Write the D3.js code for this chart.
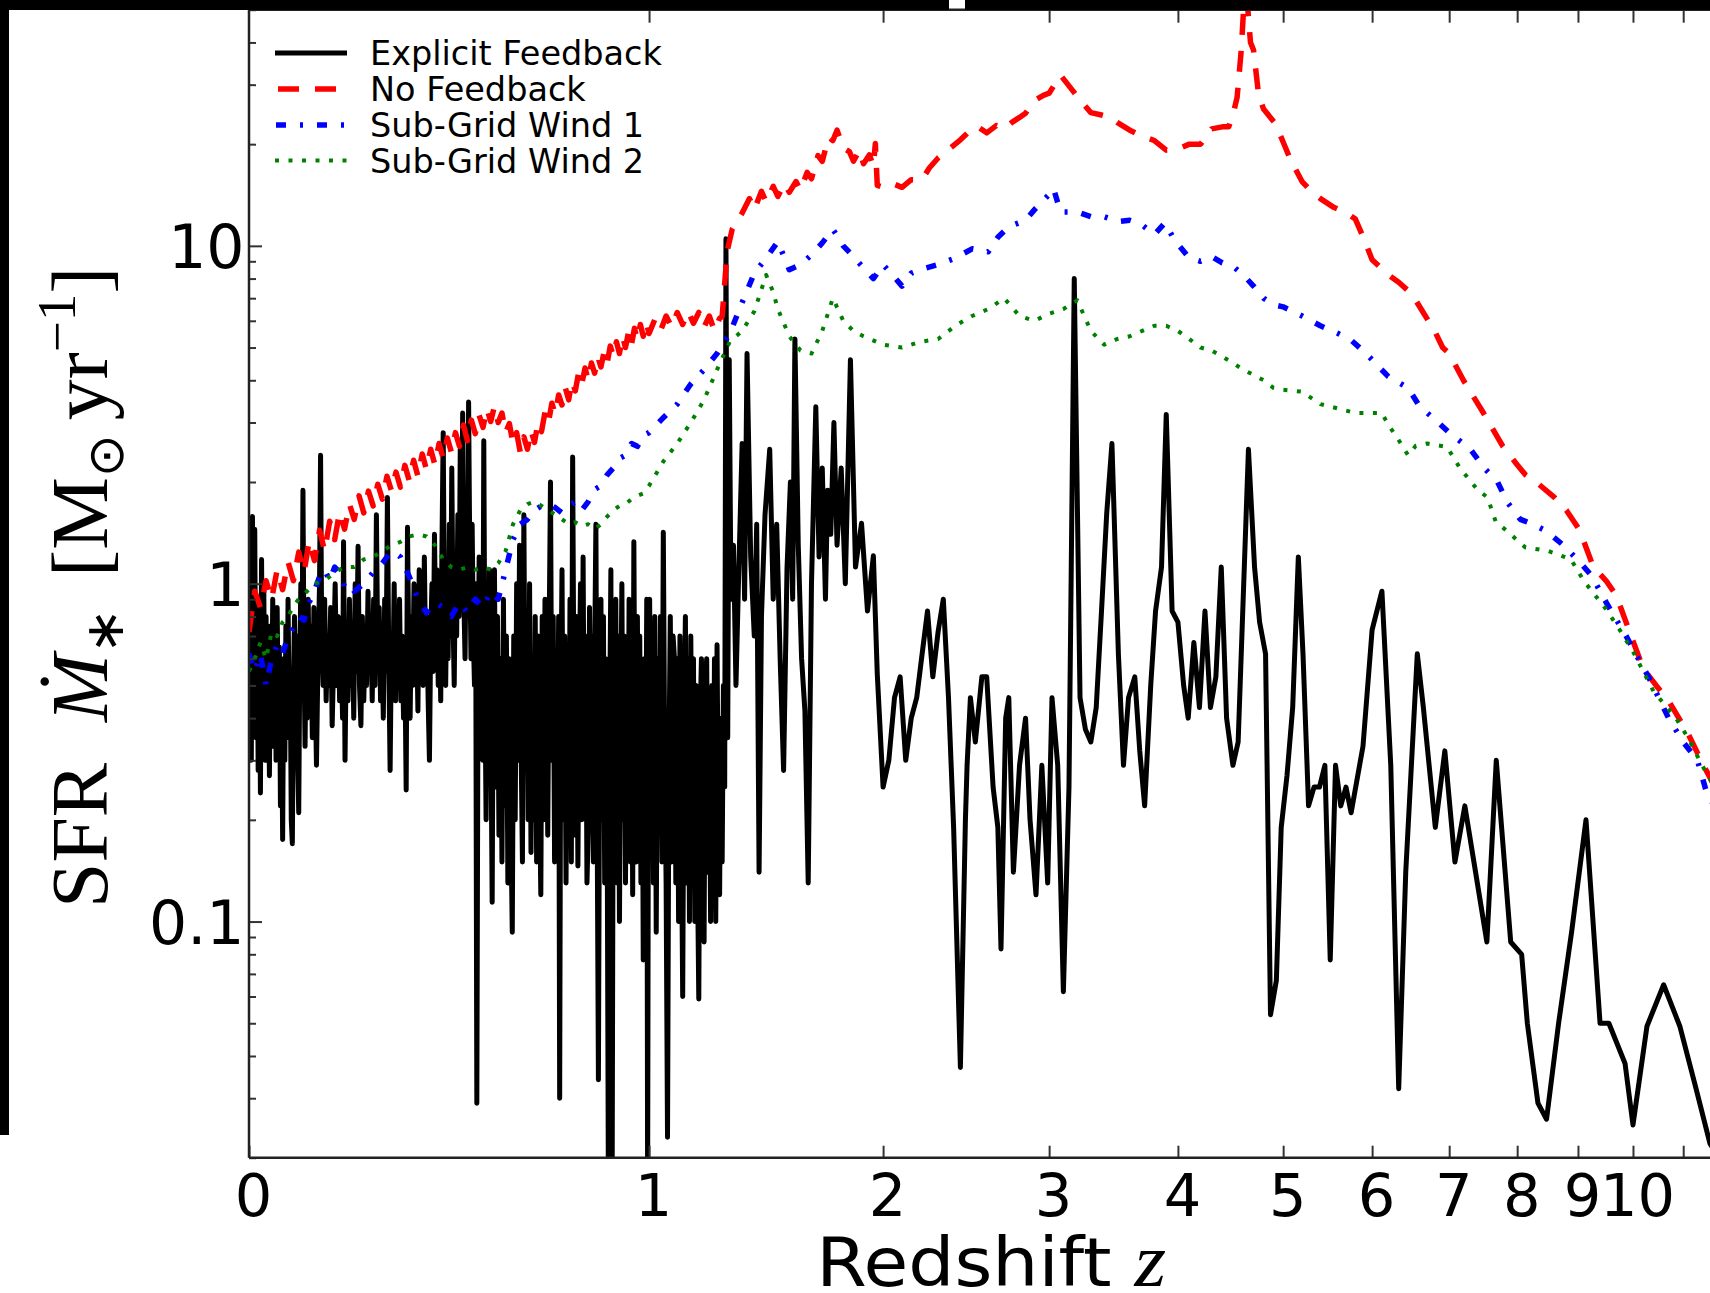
<!DOCTYPE html>
<html><head><meta charset="utf-8">
<script src="https://cdn.jsdelivr.net/npm/d3@7"></script>
<style>body{margin:0;background:#fff}svg{display:block}</style>
</head><body>
<svg id="c" width="1710" height="1293"></svg>
<script>
// ---------------- DATA (redshift z, SFR in Msun/yr) ----------------
const explicitFeedback = [
[0.000,0.45],[0.002,1.2],[0.004,0.3],[0.006,1.58],[0.008,0.5],[0.010,1.45],[0.012,0.35],[0.014,0.9],[0.016,0.28],[0.018,0.7],[0.020,0.24],[0.022,1.18],[0.024,0.4],[0.026,0.95],[0.028,0.3],[0.030,0.8],[0.032,0.35],[0.034,0.6],[0.036,0.27],[0.038,0.75],[0.040,0.4],[0.042,0.9],[0.044,0.33],[0.046,0.7],[0.048,0.3],[0.050,0.85],[0.052,0.4],[0.054,0.65],[0.056,0.22],[0.058,0.5],[0.060,0.175],[0.062,0.6],[0.064,0.3],[0.066,0.75],[0.068,0.35],[0.070,0.9],[0.072,0.4],[0.074,0.55],[0.076,0.2],[0.078,0.17],[0.080,0.5],[0.082,0.8],[0.084,0.45],[0.086,0.7],[0.088,0.3],[0.090,0.21],[0.092,0.6],[0.094,1.0],[0.096,0.5],[0.098,1.89],[0.100,0.6],[0.102,0.33],[0.104,0.7],[0.106,0.4],[0.108,0.9],[0.110,0.5],[0.113,0.75],[0.116,0.35],[0.119,0.85],[0.122,0.45],[0.124,0.29],[0.127,0.6],[0.130,1.0],[0.132,2.4],[0.134,0.8],[0.137,0.5],[0.140,0.9],[0.143,0.45],[0.146,0.7],[0.149,0.5],[0.152,0.85],[0.155,0.38],[0.158,0.6],[0.161,1.0],[0.164,0.5],[0.167,0.8],[0.170,0.45],[0.173,0.65],[0.176,0.4],[0.178,1.33],[0.181,0.30],[0.184,0.7],[0.187,0.45],[0.190,0.9],[0.193,0.5],[0.196,0.75],[0.199,0.4],[0.202,1.0],[0.205,0.55],[0.208,1.29],[0.211,0.5],[0.214,0.38],[0.217,0.8],[0.220,0.45],[0.223,0.7],[0.226,0.5],[0.229,0.95],[0.232,0.55],[0.235,0.8],[0.238,0.45],[0.241,0.9],[0.244,0.5],[0.247,1.6],[0.250,0.6],[0.253,0.85],[0.256,0.45],[0.259,0.7],[0.262,0.4],[0.265,0.9],[0.268,0.55],[0.271,1.8],[0.274,0.6],[0.277,0.28],[0.280,0.7],[0.283,0.5],[0.286,1.0],[0.289,0.45],[0.292,0.8],[0.295,0.5],[0.298,0.9],[0.301,0.45],[0.304,0.7],[0.307,0.4],[0.310,0.6],[0.313,0.245],[0.316,1.47],[0.319,0.6],[0.322,0.4],[0.325,0.8],[0.328,0.5],[0.331,1.0],[0.334,0.55],[0.337,0.75],[0.340,0.42],[0.343,1.1],[0.346,0.6],[0.349,0.9],[0.352,0.5],[0.355,1.2],[0.358,0.6],[0.361,0.8],[0.364,0.45],[0.367,0.3],[0.370,0.7],[0.373,1.0],[0.376,0.55],[0.379,1.4],[0.382,0.7],[0.385,1.1],[0.388,0.5],[0.391,0.8],[0.394,0.45],[0.397,1.3],[0.400,2.8],[0.403,0.8],[0.406,0.5],[0.409,1.0],[0.412,0.6],[0.415,1.5],[0.418,0.7],[0.421,2.2],[0.424,0.8],[0.427,0.5],[0.430,1.2],[0.433,0.7],[0.436,1.6],[0.439,0.8],[0.442,2.5],[0.445,1.0],[0.448,3.2],[0.451,0.9],[0.454,0.6],[0.457,1.4],[0.460,0.8],[0.463,3.45],[0.466,1.2],[0.469,0.6],[0.472,1.5],[0.475,0.7],[0.478,0.5],[0.481,1.0],[0.484,0.029],[0.487,0.5],[0.490,1.2],[0.493,0.35],[0.496,0.9],[0.499,0.3],[0.502,2.65],[0.505,0.5],[0.508,0.2],[0.511,0.8],[0.514,0.3],[0.517,1.1],
[0.520,0.45],[0.524,0.114],[0.527,0.7],[0.530,1.1],[0.534,0.25],[0.538,0.8],[0.542,0.18],[0.546,0.6],[0.550,0.15],[0.554,0.9],[0.558,0.22],[0.562,0.7],[0.566,0.13],[0.570,0.6],[0.574,0.2],[0.578,0.093],[0.582,0.7],[0.586,0.2],[0.590,1.0],[0.594,0.3],[0.598,1.3],[0.602,0.35],[0.606,0.15],[0.610,1.6],[0.614,0.3],[0.618,0.8],[0.622,0.2],[0.626,1.0],[0.630,0.16],[0.634,0.6],[0.638,0.2],[0.642,0.8],[0.646,0.15],[0.650,0.7],[0.654,0.25],[0.658,0.12],[0.662,0.8],[0.666,0.2],[0.670,0.9],[0.674,0.5],[0.678,0.18],[0.682,0.7],[0.686,2.0],[0.690,0.3],[0.694,0.8],[0.698,0.15],[0.702,0.6],[0.706,0.22],[0.710,0.8],[0.713,0.03],[0.716,0.4],[0.720,1.1],[0.724,0.2],[0.728,0.7],[0.732,0.13],[0.736,0.6],[0.740,0.2],[0.744,0.9],[0.748,0.15],[0.752,2.37],[0.756,0.45],[0.760,0.18],[0.764,0.8],[0.768,0.146],[0.772,0.5],[0.776,1.0],[0.780,0.2],[0.784,1.2],[0.788,0.25],[0.792,0.7],[0.796,0.13],[0.800,0.187],[0.804,0.85],[0.808,0.3],[0.812,0.7],[0.816,0.15],[0.820,0.6],[0.824,1.5],[0.828,0.2],[0.832,0.034],[0.836,0.4],[0.840,0.9],[0.844,0.2],[0.848,0.8],[0.852,0.13],[0.856,0.6],[0.860,0.2],[0.864,0.015],[0.868,0.4],[0.872,1.1],[0.876,0.015],[0.880,0.5],[0.884,0.2],[0.888,0.9],[0.892,0.13],[0.896,0.7],[0.900,0.1],[0.904,0.4],[0.908,1.0],[0.912,0.2],[0.916,0.7],[0.920,0.13],[0.924,0.6],[0.928,0.2],[0.932,0.9],[0.936,0.15],[0.940,0.7],[0.944,0.12],[0.948,1.33],[0.952,0.3],[0.956,0.15],[0.960,0.8],[0.964,0.2],[0.968,0.7],[0.972,0.13],[0.976,0.5],[0.980,0.077],[0.984,0.6],[0.988,0.2],[0.992,0.9],[0.995,0.015],[0.998,0.4],[1.002,0.9],[1.006,0.2],[1.010,0.7],[1.015,0.13],[1.020,0.8],[1.025,0.093],[1.030,0.6],[1.035,0.2],[1.040,0.8],[1.045,0.15],[1.050,1.42],[1.055,0.3],[1.060,0.13],[1.065,0.023],[1.070,0.3],[1.075,0.8],[1.080,0.15],[1.085,0.7],[1.090,0.6],[1.095,0.13],[1.100,0.6],[1.105,0.1],[1.110,0.7],[1.115,0.2],[1.120,0.06],[1.125,0.4],[1.130,0.8],[1.135,0.13],[1.140,0.6],[1.145,0.1],[1.150,0.7],[1.155,0.2],[1.160,0.6],[1.165,0.1],[1.170,0.5],[1.175,0.14],[1.180,0.059],[1.185,0.4],[1.190,0.6],[1.195,0.13],[1.200,0.087],[1.205,0.5],[1.210,0.6],[1.215,0.14],[1.220,0.4],[1.225,0.1],[1.230,0.5],[1.235,0.14],[1.240,0.6],[1.245,0.1],[1.250,0.66],[1.255,0.2],[1.260,0.12],[1.265,0.4],[1.270,0.15],[1.275,0.5],[1.280,0.25],
[1.285,10.5],[1.292,0.35],[1.298,4.6],[1.305,0.9],[1.315,1.3],[1.325,0.5],[1.335,1.0],[1.35,2.6],[1.36,0.9],[1.37,4.8],[1.385,1.2],[1.40,0.7],[1.41,1.5],[1.42,0.14],[1.43,0.8],[1.445,1.6],[1.465,2.5],[1.48,0.9],[1.495,1.5],[1.51,0.6],[1.525,0.28],[1.54,1.11],[1.555,2.0],[1.565,0.9],[1.575,5.3],[1.59,1.3],[1.605,0.6],[1.62,0.42],[1.635,0.13],[1.65,1.0],[1.67,3.34],[1.685,1.2],[1.70,2.2],[1.715,0.9],[1.725,1.89],[1.74,1.4],[1.755,3.0],[1.77,1.3],[1.79,2.2],[1.81,1.0],[1.835,4.6],[1.86,1.12],[1.89,1.51],[1.92,0.83],[1.95,1.21],[1.97,0.54],
[2.0,0.25],[2.03,0.3],[2.06,0.46],[2.09,0.53],[2.12,0.3],[2.15,0.4],[2.18,0.46],[2.21,0.62],[2.24,0.83],[2.27,0.53],[2.3,0.72],[2.33,0.9],[2.36,0.46],[2.39,0.19],[2.43,0.037],[2.46,0.2],[2.47,0.29],[2.49,0.46],[2.52,0.34],[2.56,0.53],[2.59,0.53],[2.63,0.25],[2.66,0.19],[2.68,0.083],[2.71,0.4],[2.73,0.46],[2.76,0.14],[2.8,0.29],[2.84,0.4],[2.87,0.2],[2.91,0.12],[2.95,0.29],[2.99,0.13],[3.02,0.46],[3.06,0.29],[3.1,0.062],[3.14,0.25],[3.178,8.0],
[3.22,0.46],[3.26,0.37],[3.30,0.34],[3.34,0.43],[3.38,0.83],[3.42,1.62],[3.46,2.6],[3.51,0.62],[3.55,0.29],[3.59,0.46],[3.64,0.53],[3.68,0.32],[3.72,0.22],[3.77,0.5],[3.81,0.83],[3.86,1.12],[3.90,3.17],[3.95,0.83],[4.0,0.77],[4.05,0.5],[4.09,0.4],[4.14,0.67],[4.19,0.43],[4.24,0.83],[4.29,0.43],[4.34,0.53],[4.39,1.12],[4.44,0.4],[4.5,0.29],[4.55,0.34],[4.65,2.5],[4.71,1.12],[4.76,0.77],[4.82,0.62],[4.87,0.053],[4.93,0.067],[4.98,0.19],[5.04,0.27],[5.1,0.43],[5.16,1.2],[5.21,0.62],[5.27,0.22],[5.33,0.25],[5.39,0.25],[5.45,0.29],[5.51,0.077],[5.57,0.29],[5.63,0.22],[5.69,0.25],[5.75,0.21],[5.89,0.33],[6.0,0.73],[6.12,0.95],[6.23,0.29],[6.33,0.032],[6.42,0.14],[6.57,0.62],[6.65,0.43],[6.81,0.19],[6.94,0.32],[7.08,0.15],[7.22,0.22],[7.54,0.087],[7.68,0.3],[7.9,0.087],[8.07,0.08],[8.16,0.05],[8.33,0.029],[8.47,0.026],[8.67,0.05],[8.89,0.093],[9.14,0.2],[9.39,0.05],[9.55,0.05],[9.85,0.038],[10.0,0.025],[10.27,0.049],[10.6,0.065],[10.93,0.049],[11.27,0.032],[11.57,0.022],[12.0,0.018]
];

const noFeedback = [
[0.00,0.72],[0.01,0.95],[0.02,0.85],[0.03,1.02],[0.04,0.9],[0.05,1.1],[0.06,0.96],[0.07,1.16],[0.08,1.02],[0.09,1.24],[0.10,1.08],[0.11,1.34],[0.12,1.17],[0.13,1.44],[0.14,1.25],[0.15,1.53],[0.16,1.35],[0.17,1.63],[0.18,1.45],[0.19,1.72],[0.20,1.55],[0.21,1.82],[0.22,1.62],[0.23,1.88],[0.24,1.70],[0.25,1.97],[0.26,1.78],[0.27,2.08],[0.28,1.88],[0.29,2.14],[0.30,1.93],[0.31,2.24],[0.32,2.02],[0.33,2.32],[0.34,2.08],[0.35,2.42],[0.36,2.18],[0.37,2.5],[0.38,2.25],[0.39,2.6],[0.40,2.35],[0.41,2.7],[0.42,2.45],[0.43,2.8],[0.44,2.55],[0.45,2.95],[0.46,2.65],[0.47,3.05],[0.48,2.78],[0.49,3.15],[0.50,2.9],[0.51,3.3],[0.52,3.02],[0.53,3.35],[0.54,3.0],[0.55,3.2],[0.56,2.8],[0.57,2.98],[0.58,2.6],[0.59,2.8],[0.60,2.45],[0.61,2.72],[0.62,2.5],[0.63,2.85],[0.64,2.62],[0.65,3.0],[0.66,2.82],[0.67,3.22],[0.68,3.0],[0.69,3.42],[0.70,3.18],[0.71,3.62],[0.72,3.38],[0.73,3.8],[0.74,3.5],[0.75,3.98],[0.76,3.72],[0.77,4.2],[0.78,3.9],[0.79,4.35],[0.80,4.0],[0.81,4.5],[0.82,4.2],[0.83,4.7],[0.84,4.38],[0.85,4.85],[0.86,4.5],[0.87,5.05],[0.88,4.72],[0.89,5.2],[0.90,4.8],[0.91,5.4],[0.92,5.0],[0.93,5.55],[0.94,5.1],[0.95,5.7],[0.96,5.28],[0.97,5.85],[0.98,5.4],[0.99,5.95],[1.00,5.5],[1.02,6.05],[1.04,5.6],[1.06,6.2],[1.08,5.75],[1.10,6.35],[1.12,5.85],[1.14,6.4],[1.16,5.9],[1.18,6.35],[1.20,5.75],[1.22,6.2],[1.24,5.6],[1.26,6.1],[1.27,6.18],
[1.29,9.66],[1.31,11.2],[1.35,12.5],[1.38,13.8],[1.40,12.8],[1.43,14.5],[1.45,13.5],[1.48,15.0],[1.50,14.0],[1.53,15.3],[1.55,14.4],[1.58,15.5],[1.60,14.6],[1.63,16.5],[1.65,15.8],[1.68,18.5],[1.70,17.8],[1.73,21.0],[1.75,20.5],[1.77,22.0],[1.80,19.5],[1.83,19.0],[1.85,17.8],[1.88,19.2],[1.90,17.5],[1.93,18.6],[1.95,17.2],[1.96,20.1],[1.97,15.1],[2.0,14.9],[2.05,15.3],[2.1,14.9],[2.15,15.7],[2.21,15.7],[2.25,17.0],[2.3,18.2],[2.35,19.1],[2.43,20.6],[2.5,22.2],[2.53,22.6],[2.59,21.6],[2.65,22.7],[2.7,22.2],[2.75,23.2],[2.8,24.0],[2.84,24.7],[2.9,26.9],[2.96,27.9],[3.0,28.3],[3.05,30.6],[3.08,32.0],[3.15,29.4],[3.22,27.0],[3.3,24.8],[3.38,24.4],[3.45,24.0],[3.5,23.2],[3.6,22.0],[3.7,21.1],[3.8,20.5],[3.9,19.2],[4.01,19.4],[4.1,20.0],[4.2,20.0],[4.3,22.2],[4.4,22.5],[4.46,22.5],[4.5,24.4],[4.54,27.5],[4.58,38],[4.62,62],[4.67,40],[4.7,38],[4.75,28],[4.8,25.4],[4.92,23],[5.0,20.3],[5.08,17.9],[5.2,15.5],[5.3,14.5],[5.4,13.8],[5.55,13.0],[5.7,12.5],[5.8,12.0],[5.9,10.5],[6.0,9.1],[6.2,8.2],[6.33,7.8],[6.5,7.2],[6.62,6.5],[6.8,5.6],[6.91,5.0],[7.0,4.8],[7.2,4.0],[7.49,3.2],[7.78,2.55],[8.0,2.25],[8.13,2.1],[8.3,2.0],[8.6,1.8],[8.8,1.65],[9.03,1.44],[9.27,1.12],[9.5,1.02],[9.69,0.92],[9.95,0.71],[10.2,0.56],[10.45,0.5],[10.7,0.45],[11.1,0.36],[11.43,0.29],[11.75,0.24],[12.0,0.21]
];

const subGridWind1 = [
[0.0,0.62],[0.01,0.55],[0.02,0.62],[0.03,0.5],[0.04,0.6],[0.05,0.66],[0.06,0.62],[0.07,0.7],[0.08,0.74],[0.09,0.8],[0.10,0.78],[0.11,0.88],[0.12,0.95],[0.13,1.05],[0.14,1.1],[0.15,1.02],[0.16,1.12],[0.17,1.08],[0.18,0.98],[0.19,1.0],[0.20,0.95],[0.22,1.0],[0.24,1.08],[0.26,1.15],[0.28,1.25],[0.30,1.2],[0.32,1.05],[0.34,0.9],[0.36,0.82],[0.38,0.88],[0.40,0.85],[0.42,0.8],[0.44,0.88],[0.46,0.82],[0.48,0.9],[0.50,0.85],[0.52,0.95],[0.54,0.9],[0.56,1.1],[0.58,1.35],[0.60,1.5],[0.62,1.55],[0.64,1.65],[0.66,1.7],[0.68,1.72],[0.70,1.68],[0.72,1.62],[0.74,1.7],[0.76,1.75],[0.78,1.65],[0.80,1.75],[0.82,1.9],[0.84,1.95],[0.86,2.1],[0.88,2.2],[0.90,2.35],[0.92,2.4],[0.94,2.6],[0.96,2.55],[0.98,2.75],[1.00,2.8],[1.05,3.1],[1.10,3.4],[1.15,3.9],[1.20,4.3],[1.25,4.8],[1.30,5.5],[1.35,6.8],[1.40,8.3],[1.45,9.2],[1.50,10.3],[1.55,8.5],[1.60,8.8],[1.65,9.4],[1.70,10.2],[1.75,11.2],[1.78,10.5],[1.80,10.0],[1.85,9.3],[1.90,8.6],[1.95,8.0],[2.0,8.8],[2.05,8.2],[2.1,7.6],[2.15,8.3],[2.2,8.5],[2.3,8.8],[2.4,9.2],[2.5,9.8],[2.6,9.6],[2.66,10.6],[2.73,11.4],[2.84,11.9],[2.9,12.8],[3.0,14.2],[3.03,14.8],[3.08,12.6],[3.2,12.6],[3.3,12.2],[3.4,12.2],[3.51,11.8],[3.6,11.9],[3.69,11.6],[3.8,10.8],[3.89,11.7],[3.97,10.4],[4.1,9.2],[4.2,9.0],[4.3,9.3],[4.4,8.9],[4.5,8.7],[4.6,8.2],[4.7,7.6],[4.8,7.0],[4.9,6.7],[5.0,6.6],[5.2,6.2],[5.4,5.8],[5.6,5.5],[5.75,5.26],[5.9,4.87],[6.0,4.6],[6.2,4.1],[6.45,3.8],[6.6,3.35],[6.85,3.0],[7.0,2.8],[7.3,2.5],[7.5,2.2],[7.7,2.0],[7.85,1.74],[8.05,1.55],[8.25,1.5],[8.47,1.43],[8.75,1.3],[9.03,1.16],[9.25,1.05],[9.45,0.91],[9.65,0.8],[9.85,0.71],[10.05,0.62],[10.3,0.53],[10.5,0.46],[10.7,0.4],[11.0,0.34],[11.3,0.3],[11.5,0.24],[11.75,0.21],[12.0,0.19]
];

const subGridWind2 = [
[0.0,0.55],[0.01,0.6],[0.02,0.67],[0.03,0.6],[0.04,0.72],[0.05,0.7],[0.06,0.77],[0.07,0.8],[0.08,0.86],[0.09,0.9],[0.10,0.93],[0.12,1.0],[0.14,1.02],[0.16,1.08],[0.18,1.12],[0.20,1.12],[0.22,1.18],[0.24,1.2],[0.26,1.25],[0.28,1.3],[0.30,1.33],[0.32,1.38],[0.34,1.4],[0.36,1.38],[0.38,1.3],[0.40,1.18],[0.42,1.12],[0.44,1.1],[0.46,1.12],[0.48,1.1],[0.50,1.12],[0.52,1.1],[0.54,1.15],[0.56,1.25],[0.58,1.5],[0.60,1.65],[0.62,1.72],[0.64,1.75],[0.66,1.7],[0.68,1.65],[0.70,1.6],[0.72,1.55],[0.74,1.5],[0.76,1.52],[0.78,1.48],[0.80,1.5],[0.82,1.45],[0.84,1.5],[0.86,1.58],[0.88,1.65],[0.90,1.7],[0.92,1.72],[0.94,1.78],[0.96,1.82],[0.98,1.85],[1.00,1.95],[1.05,2.3],[1.10,2.6],[1.15,3.0],[1.20,3.5],[1.25,4.3],[1.30,5.2],[1.35,5.6],[1.40,6.4],[1.45,8.2],[1.48,7.3],[1.50,6.5],[1.55,5.4],[1.60,4.9],[1.65,4.8],[1.70,5.6],[1.75,7.0],[1.80,6.0],[1.85,5.6],[1.90,5.4],[2.0,5.1],[2.1,5.0],[2.2,5.2],[2.3,5.3],[2.4,5.8],[2.5,6.2],[2.6,6.5],[2.7,7.0],[2.8,6.2],[2.9,6.0],[3.0,6.3],[3.1,6.5],[3.2,6.9],[3.3,5.6],[3.4,5.1],[3.5,5.3],[3.6,5.4],[3.7,5.6],[3.8,5.8],[3.9,5.8],[4.0,5.6],[4.1,5.3],[4.2,5.0],[4.3,4.9],[4.4,4.7],[4.5,4.5],[4.6,4.3],[4.7,4.15],[4.8,4.0],[4.9,3.8],[5.0,3.75],[5.2,3.7],[5.4,3.4],[5.6,3.3],[5.8,3.2],[6.0,3.2],[6.12,3.2],[6.2,2.95],[6.3,2.73],[6.45,2.4],[6.55,2.56],[6.7,2.6],[6.97,2.54],[7.15,2.2],[7.4,1.9],[7.55,1.8],[7.67,1.53],[7.9,1.4],[8.13,1.28],[8.5,1.25],[8.88,1.18],[9.1,1.02],[9.5,0.84],[9.75,0.73],[10.0,0.63],[10.4,0.48],[10.85,0.4],[11.1,0.35],[11.4,0.29],[11.75,0.24],[12.0,0.21]
];

const xTickValues = [0,1,2,3,4,5,6,7,8,9,10,11];
const xTickLabels = ["0","1","2","3","4","5","6","7","8","9","10",""];
const yTickValues = [0.1,1,10];
const yTickLabels = ["0.1","1","10"];
const seriesNames = ["Explicit Feedback","No Feedback","Sub-Grid Wind 1","Sub-Grid Wind 2"];

// ---------------- STYLE / LAYOUT ----------------
const styles = [
  {color:"#000000", width:5, dash:null},
  {color:"#ff0000", width:5.5, dash:"21,16"},
  {color:"#0000ff", width:5.5, dash:"10,14,3,14"},
  {color:"#008000", width:4, dash:"4,9.5"}
];
const P = {left:249, right:1729.4, top:9.7, bottom:1157.7};

const svg = d3.select("#c");
svg.append("rect").attr("width",1710).attr("height",1293).attr("fill","#fff");

const x = d3.scaleLog().domain([1,13]).range([P.left,P.right]);   // axis is log(1+z)
const y = d3.scaleLog().domain([0.02,50]).range([P.bottom,P.top]);
const xz = z => x(1+z);

svg.append("defs").append("clipPath").attr("id","clip")
  .append("rect").attr("x",P.left).attr("y",P.top)
  .attr("width",P.right-P.left).attr("height",P.bottom-P.top);

const line = d3.line().x(d=>xz(d[0])).y(d=>y(d[1]));
const all = [explicitFeedback, noFeedback, subGridWind1, subGridWind2];
const gData = svg.append("g").attr("clip-path","url(#clip)");
all.forEach((s,i)=>{
  const st = styles[i];
  gData.append("path").datum(s).attr("d",line)
    .attr("fill","none").attr("stroke",st.color).attr("stroke-width",st.width)
    .attr("stroke-linejoin","round").attr("stroke-linecap","butt")
    .attr("stroke-dasharray",st.dash);
});

// ---------------- AXES ----------------
const tickColor = "#333";
const gxB = svg.append("g").attr("transform",`translate(0,${P.bottom})`)
  .call(d3.axisBottom(x).tickValues(xTickValues.map(v=>1+v))
        .tickFormat((d,i)=>xTickLabels[i]).tickSizeInner(-12).tickSizeOuter(0));
gxB.select(".domain").remove();
gxB.selectAll(".tick line").attr("stroke",tickColor).attr("stroke-width",2);
gxB.selectAll(".tick text").attr("font-family","DejaVu Sans").attr("font-size",59)
  .attr("fill","#000").attr("y",58).attr("dy",0).attr("dx",4);
const gxT = svg.append("g").attr("transform",`translate(0,${P.top})`)
  .call(d3.axisTop(x).tickValues(xTickValues.slice(1).map(v=>1+v))
        .tickFormat("").tickSizeInner(-13).tickSizeOuter(0));
gxT.select(".domain").remove();
gxT.selectAll(".tick line").attr("stroke",tickColor).attr("stroke-width",2);
const gyM = svg.append("g").attr("transform",`translate(${P.left},0)`)
  .call(d3.axisLeft(y).tickValues(yTickValues).tickFormat((d,i)=>yTickLabels[i])
        .tickSizeInner(-13).tickSizeOuter(0).tickPadding(4.5));
gyM.select(".domain").remove();
gyM.selectAll(".tick line").attr("stroke",tickColor).attr("stroke-width",2);
gyM.selectAll(".tick text").attr("font-family","DejaVu Sans").attr("font-size",60)
  .attr("fill","#000").attr("dy","0.36em");
const minor = y.ticks().filter(v=>!yTickValues.some(t=>Math.abs(t-v)<1e-9));
const gym = svg.append("g").attr("transform",`translate(${P.left},0)`)
  .call(d3.axisLeft(y).tickValues(minor).tickFormat("").tickSizeInner(-7).tickSizeOuter(0));
gym.select(".domain").remove();
gym.selectAll(".tick line").attr("stroke",tickColor).attr("stroke-width",2);

const spine = svg.append("g").attr("stroke","#222").attr("stroke-width",2.5).attr("fill","none");
spine.append("line").attr("x1",P.left).attr("x2",P.left).attr("y1",P.top).attr("y2",P.bottom);
spine.append("line").attr("x1",P.left).attr("x2",P.right).attr("y1",P.bottom).attr("y2",P.bottom);
spine.append("line").attr("x1",P.left).attr("x2",P.right).attr("y1",P.top).attr("y2",P.top);
spine.append("line").attr("x1",P.right).attr("x2",P.right).attr("y1",P.top).attr("y2",P.bottom);

// x label (slightly widened to match the reference's proportions)
const xcx = (P.left+P.right)/2 + 2;
const xl = svg.append("text").attr("x",0).attr("y",0)
  .attr("text-anchor","middle").attr("fill","#000")
  .attr("transform",`translate(${xcx},1286) scale(1.07,1)`);
xl.append("tspan").attr("font-family","DejaVu Sans").attr("font-size",68).text("Redshift ");
xl.append("tspan").attr("font-family","Liberation Serif").attr("font-style","italic")
  .attr("font-size",76).text("z");

// y label (math-style), fitted to the span the reference label occupies
const yl = svg.append("text").attr("font-family","Liberation Serif").attr("font-size",80)
  .attr("fill","#000").attr("x",0).attr("y",0);
yl.append("tspan").text("SFR");
yl.append("tspan").attr("dx",40).attr("font-style","italic").text("\u1E40");
yl.append("tspan").attr("font-size",54).attr("dy",16).text("\u2217");
yl.append("tspan").attr("dy",-16).attr("dx",30).text("[M");
yl.append("tspan").attr("font-size",50).attr("dy",16).attr("font-family","DejaVu Sans").text("\u2299");
yl.append("tspan").attr("dy",-16).attr("dx",14).text("yr");
yl.append("tspan").attr("font-size",54).attr("dy",-32).text("\u22121");
yl.append("tspan").attr("dy",32).text("]");
const bb = yl.node().getBBox();
const ys = 641/bb.width;
yl.attr("transform",`translate(107,908) rotate(-90) scale(${ys},1) translate(${-bb.x},0)`);

// legend
const lg = svg.append("g");
const rowBase = [65,101,137,172.5];
seriesNames.forEach((name,i)=>{
  const st = styles[i];
  lg.append("line").attr("x1",275).attr("x2",347).attr("y1",rowBase[i]-12).attr("y2",rowBase[i]-12)
    .attr("stroke",st.color).attr("stroke-width",st.width).attr("stroke-dasharray",st.dash)
    .attr("stroke-dashoffset", i===1?-3:(i===2?-1:0));
  lg.append("text").attr("x",370).attr("y",rowBase[i]).attr("font-family","DejaVu Sans")
    .attr("font-size",33.5).attr("fill","#000").text(name);
});

// black borders present in the source image
svg.append("rect").attr("x",0).attr("y",0).attr("width",949).attr("height",10).attr("fill","#000");
svg.append("rect").attr("x",965).attr("y",0).attr("width",745).attr("height",10).attr("fill","#000");
svg.append("rect").attr("x",0).attr("y",0).attr("width",9).attr("height",1135).attr("fill","#000");
</script>
</body></html>
